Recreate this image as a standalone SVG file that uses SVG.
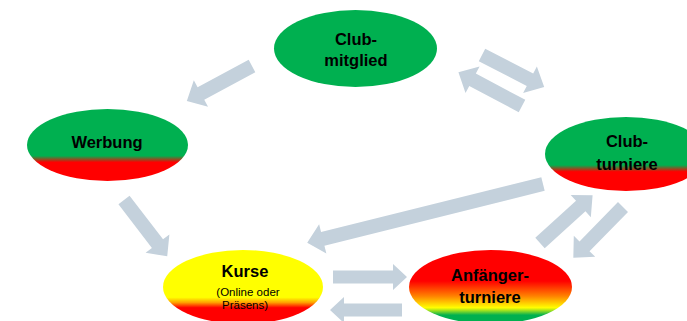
<svg xmlns="http://www.w3.org/2000/svg" width="687" height="321" viewBox="0 0 687 321">
<defs>
<style>
.lbl{font-family:"Liberation Sans",Arial,sans-serif;font-weight:bold;font-size:16.5px;fill:#000;text-anchor:middle}
.sm{font-family:"Liberation Sans",Arial,sans-serif;font-size:11.5px;fill:#000;text-anchor:middle}
.arr{fill:#c4d1dc}
</style>
<linearGradient id="gr" x1="0" y1="0" x2="0" y2="1">
<stop offset="0" stop-color="#00b050"/><stop offset="0.65" stop-color="#00b050"/><stop offset="0.74" stop-color="#ff0000"/><stop offset="1" stop-color="#ff0000"/>
</linearGradient>
<linearGradient id="yr" x1="0" y1="0" x2="0" y2="1">
<stop offset="0" stop-color="#ffff00"/><stop offset="0.64" stop-color="#ffff00"/><stop offset="0.71" stop-color="#ffa000"/><stop offset="0.78" stop-color="#ff0000"/><stop offset="1" stop-color="#ff0000"/>
</linearGradient>
<linearGradient id="ryg" x1="0" y1="0" x2="0" y2="1">
<stop offset="0" stop-color="#ff0000"/><stop offset="0.42" stop-color="#ff0000"/><stop offset="0.62" stop-color="#ff8000"/><stop offset="0.78" stop-color="#ffff00"/><stop offset="0.88" stop-color="#00b050"/><stop offset="1" stop-color="#00b050"/>
</linearGradient>
</defs>
<rect width="687" height="321" fill="#fff"/>
<g id="connectors">
<path class="arr" transform="translate(252,66) rotate(151.7)" d="M0,-7 H58 V-15 L74,0 L58,15 V7 H0 Z"/>
<path class="arr" transform="translate(124,200) rotate(52.5)" d="M0,-7 H55 V-15 L71,0 L55,15 V7 H0 Z"/>
<path class="arr" transform="translate(543,184) rotate(166)" d="M0,-7 H227 V-15 L243,0 L227,15 V7 H0 Z"/>
<path class="arr" transform="translate(333,277)" d="M0,-6.5 H60 V-13 L74,0 L60,13 V6.5 H0 Z"/>
<path class="arr" transform="translate(402,310) rotate(180)" d="M0,-6.5 H58 V-13 L72,0 L58,13 V6.5 H0 Z"/>
<path class="arr" transform="translate(482,55) rotate(27.3)" d="M0,-7 H54 V-15 L70,0 L54,15 V7 H0 Z"/>
<path class="arr" transform="translate(522,106) rotate(208)" d="M0,-7 H56 V-15 L72,0 L56,15 V7 H0 Z"/>
<path class="arr" transform="translate(540,243) rotate(-42.2)" d="M0,-7 H55 V-15 L71,0 L55,15 V7 H0 Z"/>
<path class="arr" transform="translate(623,207) rotate(134.4)" d="M0,-7 H55 V-15 L71,0 L55,15 V7 H0 Z"/>
</g>
<g id="clubmitglied">
<ellipse cx="355.5" cy="48.5" rx="81.5" ry="38.5" fill="#00b050"/>
<text class="lbl" x="356" y="45">Club-</text>
<text class="lbl" x="356" y="66">mitglied</text>
</g>
<g id="werbung">
<ellipse cx="107.5" cy="145" rx="80.5" ry="36" fill="url(#gr)"/>
<text class="lbl" x="107" y="148">Werbung</text>
</g>
<g id="clubturniere">
<ellipse cx="626" cy="154" rx="81" ry="37" fill="url(#gr)"/>
<text class="lbl" x="627" y="147">Club-</text>
<text class="lbl" x="627" y="170">turniere</text>
</g>
<g id="kurse">
<ellipse cx="243" cy="287" rx="80" ry="37" fill="url(#yr)"/>
<text class="lbl" x="245" y="277">Kurse</text>
<text class="sm" x="248" y="296">(Online oder</text>
<text class="sm" x="245" y="309">Präsens)</text>
</g>
<g id="anfaenger">
<ellipse cx="490.5" cy="287" rx="81.5" ry="37" fill="url(#ryg)"/>
<text class="lbl" x="490" y="281">Anfänger-</text>
<text class="lbl" x="490" y="303">turniere</text>
</g>
</svg>
